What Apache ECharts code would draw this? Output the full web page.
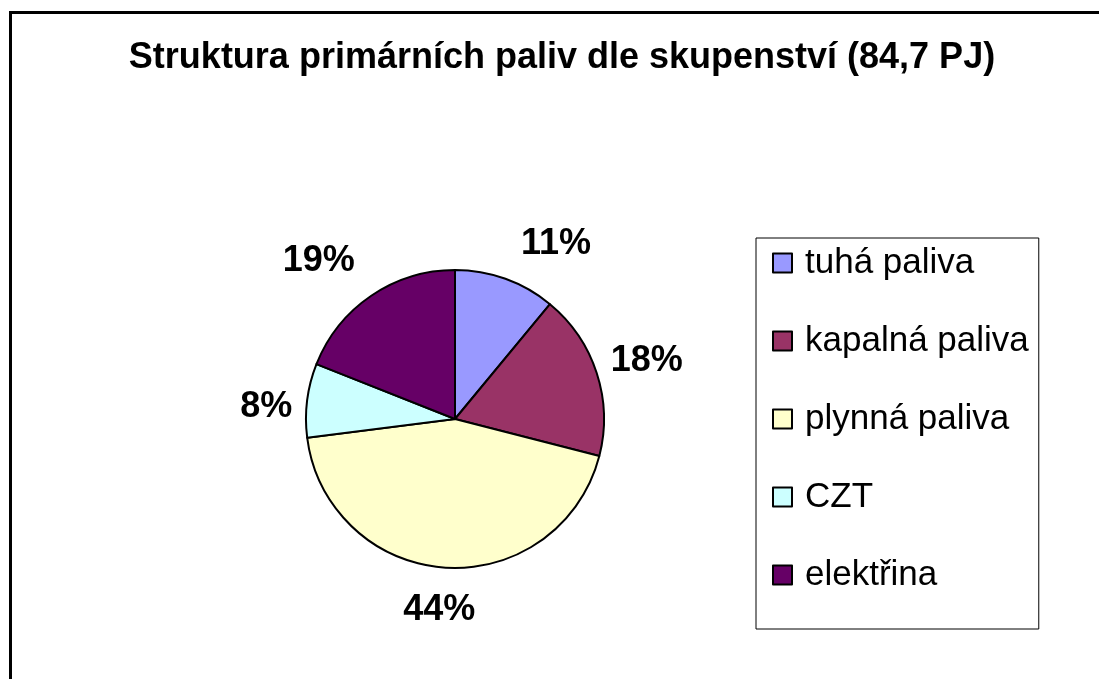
<!DOCTYPE html>
<html>
<head>
<meta charset="utf-8">
<script src="https://cdn.jsdelivr.net/npm/echarts@6/dist/echarts.min.js"></script>
<style>
  html, body { margin: 0; padding: 0; background: #fff; }
  #frame { position: absolute; left: 9px; top: 11px; width: 1200px; height: 800px; border-left: 3px solid #000; border-top: 3px solid #000; }
  #main { position: absolute; left: 0; top: 0; width: 1099px; height: 679px; }
</style>
</head>
<body>
<div id="frame"></div>
<div id="main"></div>
<script>
// data
const categories = ['tuhá paliva', 'kapalná paliva', 'plynná paliva', 'CZT', 'elektřina'];
const shares = [11, 18, 44, 8, 19];
const colors = ['#9999FF', '#993366', '#FFFFCC', '#CCFFFF', '#660066'];
const titleText = 'Struktura primárních paliv dle skupenství (84,7 PJ)';

// small nudges of the percent labels (like Excel puts them)
const labelNudge = [[3, -14], [-12, -5], [36, 20], [12, 10], [1, -16]];

const font = '"Liberation Sans", Arial, sans-serif';

let chart = echarts.init(document.getElementById('main'), null, { renderer: 'canvas' });

let pieData = categories.map((name, i) => ({
  name: name,
  value: shares[i],
  itemStyle: { color: colors[i] }
}));

let option = {
  backgroundColor: 'transparent',
  animation: false,
  title: {
    text: titleText,
    left: 562,
    top: 40,
    padding: 0,
    textAlign: 'center',
    textStyle: { fontFamily: font, fontSize: 36, fontWeight: 'bold', color: '#000' }
  },
  legend: {
    orient: 'vertical',
    left: 756,
    top: 238,
    padding: [7, 10, 36, 16],
    itemGap: 42,
    itemWidth: 19,
    itemHeight: 19,
    icon: 'rect',
    borderColor: '#000',
    borderWidth: 1,
    itemStyle: { borderColor: '#000', borderWidth: 2 },
    textStyle: { fontFamily: font, fontSize: 35, color: '#000', lineHeight: 36, padding: [0, 0, 0, 8] },
    data: categories
  },
  series: [{
    type: 'pie',
    center: [455, 419],
    radius: 149,
    startAngle: 90,
    clockwise: true,
    avoidLabelOverlap: false,
    itemStyle: { borderColor: '#000', borderWidth: 2 },
    label: {
      show: true,
      position: 'outside',
      formatter: p => Math.round(p.percent) + '%',
      fontFamily: font,
      fontSize: 36,
      fontWeight: 'bold',
      color: '#000'
    },
    labelLine: { show: false, length: 22, length2: 0 },
    labelLayout: p => ({ dx: labelNudge[p.dataIndex][0], dy: labelNudge[p.dataIndex][1] }),
    emphasis: { disabled: true },
    data: pieData
  }]
};

chart.setOption(option);
</script>
</body>
</html>
